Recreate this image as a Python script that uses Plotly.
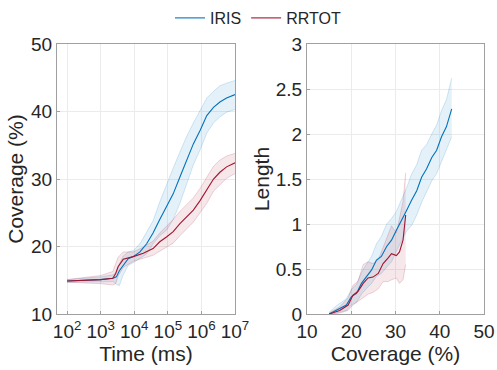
import plotly.graph_objects as go

# ---- Left panel: coverage vs time ----
iris_t = [100, 300, 1000, 2300, 2950, 3600, 4700, 6600, 9300, 14800, 23400, 36300, 57500, 91200, 144500, 229000, 363000, 575000, 912000, 1445000, 2290000, 3550000, 5620000, 10000000]
iris_cov = [14.9, 15.0, 15.1, 15.3, 15.5, 16.4, 17.2, 18.2, 18.5, 19.2, 20.4, 22.0, 24.0, 25.9, 27.8, 30.3, 32.8, 35.2, 37.2, 39.4, 40.6, 41.4, 42.0, 42.5]
iris_cov_hi = [15.1, 15.3, 15.5, 15.8, 16.2, 17.4, 18.6, 19.2, 19.4, 20.4, 22.1, 23.8, 26.6, 29.2, 31.6, 34.0, 36.3, 38.3, 40.2, 42.0, 43.0, 43.8, 44.2, 44.6]
iris_cov_lo = [14.7, 14.7, 14.7, 14.8, 14.4, 14.2, 15.8, 17.2, 17.6, 18.2, 18.9, 20.4, 21.6, 22.4, 24.0, 26.4, 29.2, 32.1, 34.3, 36.8, 38.3, 39.2, 39.9, 40.3]

rr_t = [100, 300, 1000, 2300, 2800, 3300, 4700, 9300, 18600, 36300, 57500, 91200, 144500, 229000, 363000, 575000, 912000, 1445000, 2290000, 3550000, 5620000, 10000000]
rr_cov = [14.9, 15.0, 15.1, 15.3, 16.0, 17.0, 18.1, 18.5, 19.0, 19.7, 20.7, 21.4, 22.2, 23.4, 24.4, 25.4, 26.8, 28.3, 30.0, 31.0, 31.8, 32.4]
rr_cov_hi = [15.1, 15.4, 15.7, 16.3, 17.4, 18.4, 19.2, 19.2, 19.9, 20.8, 22.0, 23.0, 24.0, 25.2, 26.2, 27.2, 28.6, 30.3, 31.9, 32.8, 33.4, 33.8]
rr_cov_lo = [14.7, 14.6, 14.5, 14.3, 14.5, 15.6, 16.9, 17.8, 18.2, 18.7, 19.3, 19.9, 20.5, 21.6, 22.6, 23.6, 25.0, 26.4, 28.2, 29.2, 30.1, 30.8]

# ---- Right panel: length vs coverage ----
iris_c2 = [15.0, 16.6, 18.9, 20.0, 21.2, 22.3, 23.4, 24.6, 25.7, 26.8, 28.0, 29.1, 30.2, 31.4, 32.5, 33.6, 34.8, 35.9, 37.0, 38.2, 39.3, 40.4, 41.5, 42.7]
iris_len = [0.0, 0.04, 0.10, 0.19, 0.23, 0.34, 0.41, 0.49, 0.60, 0.64, 0.75, 0.82, 0.93, 1.04, 1.15, 1.26, 1.37, 1.52, 1.61, 1.74, 1.82, 1.97, 2.08, 2.28]
iris_len_hi = [0.02, 0.09, 0.17, 0.27, 0.33, 0.46, 0.55, 0.64, 0.78, 0.86, 1.00, 1.06, 1.14, 1.27, 1.40, 1.55, 1.66, 1.82, 1.88, 2.00, 2.10, 2.26, 2.38, 2.62]
iris_len_lo = [0.0, 0.01, 0.04, 0.10, 0.13, 0.22, 0.28, 0.34, 0.42, 0.45, 0.52, 0.58, 0.70, 0.82, 0.92, 0.98, 1.10, 1.24, 1.35, 1.48, 1.56, 1.70, 1.82, 1.97]

rr_c2 = [15.0, 17.4, 19.3, 20.4, 21.5, 22.7, 23.8, 24.9, 26.1, 27.2, 28.3, 29.1, 30.2, 30.9, 31.7, 32.3]
rr_len = [0.0, 0.04, 0.10, 0.21, 0.25, 0.34, 0.40, 0.41, 0.45, 0.56, 0.62, 0.67, 0.65, 0.69, 0.82, 1.10]
rr_len_hi = [0.01, 0.08, 0.18, 0.32, 0.36, 0.55, 0.58, 0.56, 0.60, 0.74, 0.86, 0.98, 0.90, 1.05, 1.25, 1.57]
rr_len_lo = [0.0, 0.01, 0.04, 0.10, 0.14, 0.18, 0.22, 0.24, 0.28, 0.36, 0.36, 0.38, 0.40, 0.34, 0.38, 0.55]

BLUE = "#0072BD"
RED = "#A2142F"
BLUE_FILL = "rgba(0,114,189,0.10)"
RED_FILL = "rgba(162,20,47,0.10)"
BLUE_EDGE = "rgba(0,114,189,0.22)"
RED_EDGE = "rgba(162,20,47,0.22)"

FONT = "Liberation Sans, Arial, sans-serif"
TXT = "#262626"

fig = go.Figure()

def band(x, lo, hi, fill, edge, xa, ya):
    fig.add_trace(go.Scatter(x=x, y=hi, mode="lines", line=dict(color=edge, width=0.8),
                             showlegend=False, hoverinfo="skip", xaxis=xa, yaxis=ya))
    fig.add_trace(go.Scatter(x=x, y=lo, mode="lines", line=dict(color=edge, width=0.8),
                             fill="tonexty", fillcolor=fill,
                             showlegend=False, hoverinfo="skip", xaxis=xa, yaxis=ya))

band(iris_t, iris_cov_lo, iris_cov_hi, BLUE_FILL, BLUE_EDGE, "x", "y")
band(rr_t, rr_cov_lo, rr_cov_hi, RED_FILL, RED_EDGE, "x", "y")
band(iris_c2, iris_len_lo, iris_len_hi, BLUE_FILL, BLUE_EDGE, "x2", "y2")
band(rr_c2, rr_len_lo, rr_len_hi, RED_FILL, RED_EDGE, "x2", "y2")

fig.add_trace(go.Scatter(x=iris_t, y=iris_cov, mode="lines", name="IRIS",
                         line=dict(color=BLUE, width=1.1), xaxis="x", yaxis="y"))
fig.add_trace(go.Scatter(x=rr_t, y=rr_cov, mode="lines", name="RRTOT",
                         line=dict(color=RED, width=1.1), xaxis="x", yaxis="y"))
fig.add_trace(go.Scatter(x=iris_c2, y=iris_len, mode="lines", showlegend=False,
                         line=dict(color=BLUE, width=1.1), xaxis="x2", yaxis="y2"))
fig.add_trace(go.Scatter(x=rr_c2, y=rr_len, mode="lines", showlegend=False,
                         line=dict(color=RED, width=1.1), xaxis="x2", yaxis="y2"))

W, H = 497, 370

def px_x(a, b):
    return [a / W, b / W]

def px_y(top, bottom):
    return [1 - bottom / H, 1 - top / H]

ax_common = dict(showline=True, linecolor="#a0a0a0", linewidth=1, mirror=True,
                 showgrid=True, gridcolor="#ebebeb", gridwidth=1, zeroline=False,
                 ticks="inside", ticklen=3, tickcolor="#a0a0a0", automargin=False,
                 tickfont=dict(family=FONT, size=19, color=TXT),
                 title_font=dict(family=FONT, size=21, color=TXT))

fig.update_layout(
    width=W, height=H,
    margin=dict(l=0, r=0, t=0, b=0, autoexpand=False),
    plot_bgcolor="white", paper_bgcolor="white",
    font=dict(family=FONT, color=TXT),
    showlegend=True,
    legend=dict(orientation="h", x=258 / W, xanchor="center",
                y=1 - 18 / H, yanchor="middle",
                font=dict(family=FONT, size=16, color=TXT), traceorder="normal",
                bgcolor="rgba(0,0,0,0)", itemwidth=30, tracegroupgap=0),
    xaxis=dict(ax_common, type="log", range=[1.7, 7], domain=px_x(57, 235),
               tickvals=[1e2, 1e3, 1e4, 1e5, 1e6, 1e7],
               ticktext=["10<sup>2</sup>", "10<sup>3</sup>", "10<sup>4</sup>", "10<sup>5</sup>", "10<sup>6</sup>", "10<sup>7</sup>"],
               title=dict(text="Time (ms)", standoff=0), anchor="y"),
    yaxis=dict(ax_common, range=[10, 50], domain=px_y(44, 314),
               tickvals=[10, 20, 30, 40, 50],
               title=dict(text="Coverage (%)", standoff=1), anchor="x"),
    xaxis2=dict(ax_common, range=[10, 50], domain=px_x(307, 484),
                tickvals=[10, 20, 30, 40, 50],
                title=dict(text="Coverage (%)", standoff=2), anchor="y2"),
    yaxis2=dict(ax_common, range=[0, 3], domain=px_y(44, 314),
                tickvals=[0, 0.5, 1, 1.5, 2, 2.5, 3],
                ticktext=["0", "0.5", "1", "1.5", "2", "2.5", "3"],
                title=dict(text="Length", standoff=0), anchor="x2"),
)

fig.write_html("out.html", config={"displayModeBar": False},
               post_script="document.body.style.margin='0';document.body.style.overflow='hidden';")
